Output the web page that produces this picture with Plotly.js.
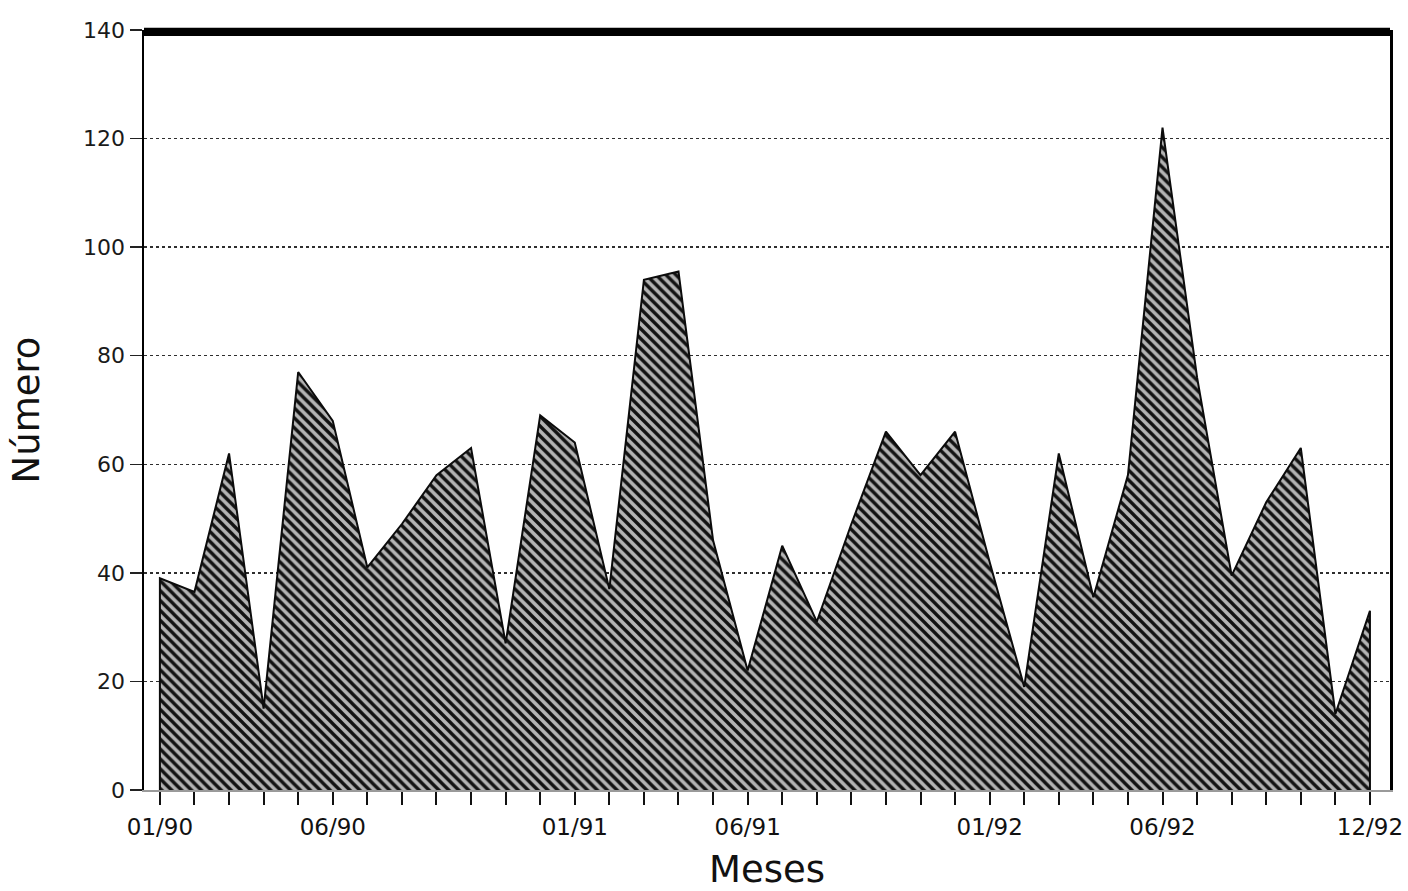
<!DOCTYPE html>
<html>
<head>
<meta charset="utf-8">
<script src="https://cdn.plot.ly/plotly-3.0.1.min.js"></script>
<style>
  html, body { margin: 0; padding: 0; background: #ffffff; }
  #chart { width: 1408px; height: 891px; }
</style>
</head>
<body>
<div id="chart"></div>
<script>
// Month categories (MM/YY), January 1990 to December 1992
const months = [
  '01/90','02/90','03/90','04/90','05/90','06/90','07/90','08/90','09/90','10/90','11/90','12/90',
  '01/91','02/91','03/91','04/91','05/91','06/91','07/91','08/91','09/91','10/91','11/91','12/91',
  '01/92','02/92','03/92','04/92','05/92','06/92','07/92','08/92','09/92','10/92','11/92','12/92'
];

// Número por mes
const counts = [
  39, 36.5, 62, 15, 77, 68, 41, 49, 58, 63, 27, 69,
  64, 37, 94, 95.5, 46, 22, 45, 31, 49, 66, 58, 66,
  42, 19, 62, 35.5, 58, 122, 76, 39.5, 53, 63, 14, 33
];

// Month labels printed under the axis
const shownLabels = ['01/90','06/90','01/91','06/91','01/92','06/92','12/92'];

// Y axis ticks
const yTickValues = [0, 20, 40, 60, 80, 100, 120, 140];

// Closed outline of the area (drops to zero at both ends)
const outlineX = [months[0]].concat(months, [months[months.length - 1]]);
const outlineY = [0].concat(counts, [0]);

const trace = {
  type: 'scatter',
  mode: 'lines',
  x: outlineX,
  y: outlineY,
  fill: 'toself',
  fillcolor: '#b4b4b4',
  fillpattern: {
    shape: '\\',
    fgcolor: '#121212',
    bgcolor: '#b4b4b4',
    size: 7,
    solidity: 0.48
  },
  line: { color: '#0c0c0c', width: 2 },
  hoverinfo: 'skip',
  showlegend: false
};

const layout = {
  width: 1408,
  height: 891,
  margin: { l: 144, r: 18, t: 30, b: 101 },
  paper_bgcolor: '#ffffff',
  plot_bgcolor: '#ffffff',
  font: { family: 'DejaVu Sans, Liberation Sans, Arial, sans-serif', color: '#1a1a1a', size: 22 },
  showlegend: false,
  xaxis: {
    type: 'category',
    categoryorder: 'array',
    categoryarray: months,
    range: [-0.46, 35.58],
    tickmode: 'array',
    tickvals: months,
    ticktext: months.map(m => shownLabels.includes(m) ? m : ''),
    ticks: 'outside',
    ticklen: 13,
    tickwidth: 2,
    tickcolor: '#111111',
    ticklabelstandoff: 3,
    tickfont: { size: 23, color: '#111111' },
    showgrid: false,
    zeroline: false,
    showline: true,
    linecolor: '#9a9a9a',
    linewidth: 1.5,
    automargin: false,
    title: { text: 'Meses', font: { size: 37, color: '#111111' }, standoff: 17 }
  },
  yaxis: {
    range: [0, 140],
    tickmode: 'array',
    tickvals: yTickValues,
    ticks: 'outside',
    ticklen: 12,
    tickwidth: 1.5,
    tickcolor: '#222222',
    tickfont: { size: 22, color: '#1a1a1a' },
    showgrid: true,
    gridcolor: '#2e2e2e',
    griddash: 'dot',
    gridwidth: 1.4,
    zeroline: false,
    showline: true,
    linecolor: '#000000',
    linewidth: 2.5,
    mirror: true,
    automargin: false,
    title: { text: 'Número', font: { size: 37, color: '#111111' }, standoff: 32 }
  },
  shapes: [
    {
      type: 'rect',
      xref: 'paper', yref: 'paper',
      x0: 0, x1: 1, y0: 0.992, y1: 1.003,
      fillcolor: '#000000',
      line: { width: 0 },
      layer: 'above'
    }
  ]
};

Plotly.newPlot('chart', [trace], layout, { staticPlot: true, displayModeBar: false });
</script>
</body>
</html>
